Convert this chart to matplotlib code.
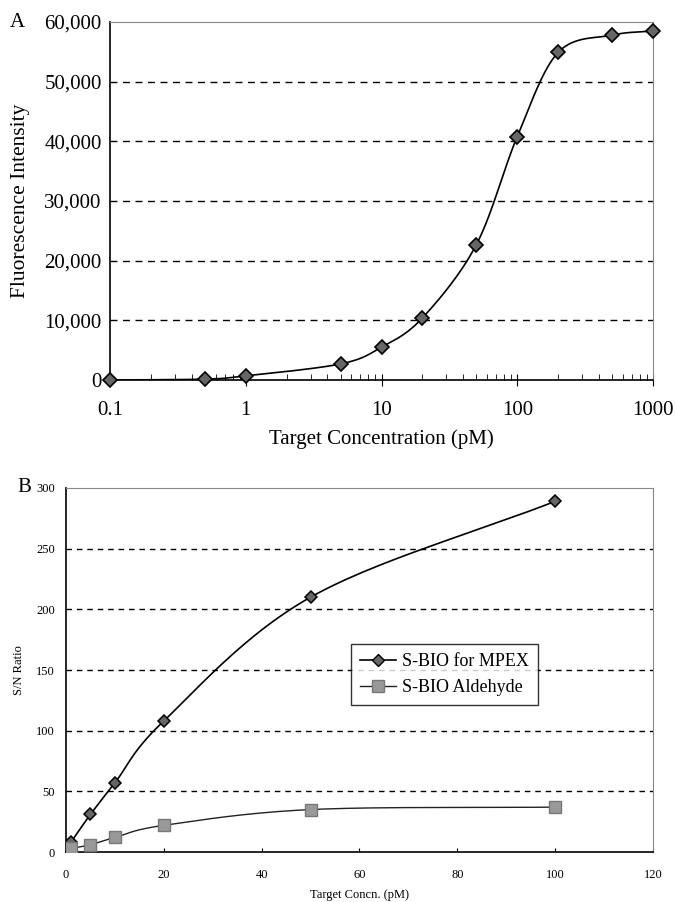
import numpy as np
import matplotlib
matplotlib.use("Agg")
from matplotlib import pyplot as plt
from matplotlib.ticker import FuncFormatter, LogLocator, NullFormatter

plt.rcParams['font.family'] = ['Liberation Serif', 'DejaVu Serif']

# panel A data
conc_a = [0.1, 0.5, 1, 5, 10, 20, 50, 100, 200, 500, 1000]
fluor_a = [0, 150, 700, 2700, 5500, 10400, 22700, 40800, 54900, 57800, 58500]

# panel B data
conc_b = [1, 5, 10, 20, 50, 100]
sn_mpex = [8, 31, 57, 108, 210, 289]
sn_ald = [3, 6, 12, 22, 35, 37]
labels_b = ["S-BIO for MPEX", "S-BIO Aldehyde"]


def smooth(x, y, n=30):
   # catmull-rom style smoothing like the spreadsheet "smoothed line"
   x = np.asarray(x, float)
   y = np.asarray(y, float)
   px = np.concatenate([[2 * x[0] - x[1]], x, [2 * x[-1] - x[-2]]])
   py = np.concatenate([[2 * y[0] - y[1]], y, [2 * y[-1] - y[-2]]])
   xs, ys = [], []
   t = np.linspace(0, 1, n)
   for i in range(1, len(px) - 2):
      p0, p1, p2, p3 = [np.array([px[j], py[j]]) for j in range(i - 1, i + 3)]
      c1 = p1 + (p2 - p0) / 6
      c2 = p2 - (p3 - p1) / 6
      b = ((1 - t) ** 3)[:, None] * p1 + (3 * (1 - t) ** 2 * t)[:, None] * c1 \
         + (3 * (1 - t) * t ** 2)[:, None] * c2 + (t ** 3)[:, None] * p2
      xs.extend(b[:, 0])
      ys.extend(b[:, 1])
   return np.array(xs), np.array(ys)


def style_frame(ax):
   for s in ["top", "right"]:
      ax.spines[s].set_color("#888888")
      ax.spines[s].set_linestyle((0, (1, 1)))
      ax.spines[s].set_linewidth(0.8)
   for s in ["left", "bottom"]:
      ax.spines[s].set_color("black")
      ax.spines[s].set_linewidth(1.2)


fig = plt.figure(figsize=(6.76, 9.02), dpi=100)

# ---- panel A
ax1 = fig.add_axes([0.1627, 0.5787, 0.8033, 0.3969])
ax1.set_xscale("log")
ax1.set_xlim(0.1, 1000)
ax1.set_ylim(0, 60000)
ax1.set_yticks(range(0, 60001, 10000))
ax1.yaxis.set_major_formatter(FuncFormatter(lambda v, p: f"{int(v):,}"))
ax1.set_xticks([0.1, 1, 10, 100, 1000])
ax1.set_xticklabels(["0.1", "1", "10", "100", "1000"])
ax1.xaxis.set_minor_locator(LogLocator(base=10, subs=np.arange(2, 10)))
ax1.xaxis.set_minor_formatter(NullFormatter())
for yv in range(10000, 60000, 10000):
   ax1.axhline(yv, color="black", lw=1, ls=(0, (5, 4)), zorder=1)
lx, ly = smooth(np.log10(conc_a), fluor_a)
ax1.plot(10 ** lx, ly, color="black", lw=1.2, zorder=2)
ax1.plot(conc_a, fluor_a, ls="none", marker="D", ms=7, mfc="#666666",
         mec="black", mew=1.2, clip_on=False, zorder=3)
style_frame(ax1)
ax1.tick_params(axis="y", length=0, labelsize=15, pad=6)
ax1.tick_params(axis="x", which="major", direction="inout", length=8, labelsize=15, pad=11)
ax1.tick_params(axis="x", which="minor", direction="in", length=4)
ax1.set_ylabel("Fluorescence Intensity", fontsize=15.5, labelpad=10)
ax1.set_xlabel("Target Concentration (pM)", fontsize=15, labelpad=7)
fig.text(0.015, 0.975, "A", fontsize=15, va="center")

# ---- panel B
ax2 = fig.add_axes([0.0976, 0.0554, 0.8683, 0.4036])
ax2.set_xlim(0, 120)
ax2.set_ylim(0, 300)
ax2.set_xticks(range(0, 121, 20))
ax2.set_yticks(range(0, 301, 50))
for yv in range(50, 300, 50):
   ax2.axhline(yv, color="black", lw=1, ls=(0, (4, 3.5)), zorder=1)
mx, my = smooth(conc_b, sn_mpex)
ax2.plot(mx, my, color="black", lw=1.2, zorder=2)
ax2.plot(conc_b, sn_mpex, ls="-", lw=0, marker="D", ms=6, mfc="#666666",
         mec="black", mew=1.1, zorder=3)
ax_, ay_ = smooth(conc_b, sn_ald)
ax2.plot(ax_, ay_, color="#222222", lw=1.0, zorder=2)
ax2.plot(conc_b, sn_ald, ls="none", marker="s", ms=8, mfc="#999999",
         mec="#777777", mew=1, zorder=3)
h1 = plt.Line2D([], [], color="black", lw=1.2, marker="D", ms=6, mfc="#666666", mec="black")
h2 = plt.Line2D([], [], color="#222222", lw=1.0, marker="s", ms=8, mfc="#999999", mec="#777777")
leg = ax2.legend([h1, h2], labels_b, loc="lower left", bbox_to_anchor=(0.486, 0.404),
                 fontsize=13, frameon=True, fancybox=False, borderpad=0.5,
                 handlelength=2.0, handletextpad=0.3, labelspacing=0.5, borderaxespad=0)
leg.get_frame().set_edgecolor("black")
leg.get_frame().set_linewidth(1)
style_frame(ax2)
ax2.tick_params(axis="y", length=0, labelsize=9, pad=8)
ax2.tick_params(axis="x", direction="in", length=3, labelsize=9, pad=12)
ax2.set_ylabel("S/N Ratio", fontsize=9, labelpad=8)
ax2.set_xlabel("Target Concn. (pM)", fontsize=9, labelpad=6)
fig.text(0.025, 0.459, "B", fontsize=15, va="center")

plt.savefig("out.png", dpi=100)
